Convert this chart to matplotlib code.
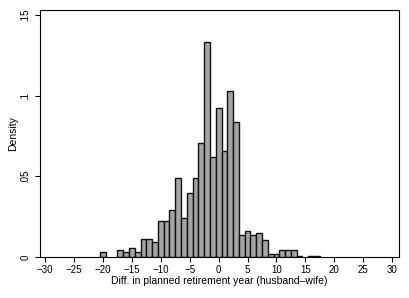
import numpy as np
import matplotlib
matplotlib.use('Agg')
import matplotlib.pyplot as plt

# difference in planned retirement year (husband - wife), one bar per year
years = [-20, -17, -16, -15, -14, -13, -12, -11, -10, -9, -8, -7, -6, -5, -4,
         -3, -2, -1, 0, 1, 2, 3, 4, 5, 6, 7, 8, 9, 10, 11, 12, 13, 14, 16, 17]
density = [0.0031, 0.0044, 0.0030, 0.0054, 0.0030, 0.0114, 0.0114, 0.0090,
           0.0223, 0.0223, 0.0292, 0.0492, 0.0244, 0.0400, 0.0492, 0.0708,
           0.1335, 0.0623, 0.0923, 0.0660, 0.1029, 0.0840, 0.0138, 0.0163,
           0.0138, 0.0150, 0.0106, 0.0019, 0.0019, 0.0044, 0.0044, 0.0044,
           0.0008, 0.0008, 0.0008]

xticks = list(range(-30, 31, 5))
xtick_labels = [str(t).replace('-', '\u2212') for t in xticks]
yticks = [0, 0.05, 0.1, 0.15]
ytick_labels = ['0', '.05', '.1', '.15']

plt.rcParams['font.family'] = ['Liberation Sans', 'DejaVu Sans']

fig = plt.figure(figsize=(4.10, 2.98), dpi=100)
ax = fig.add_axes([40 / 410, 41 / 298, 359 / 410, 247 / 298])

ax.bar(years, density, width=1.0, color='#a4a4a4', edgecolor='#111111',
       linewidth=1.0, align='center')

ax.set_xlim(-30.9, 31.2)
ax.set_ylim(0, 0.1533)
ax.set_xticks(xticks)
ax.set_xticklabels(xtick_labels)
ax.set_yticks(yticks)
ax.set_yticklabels(ytick_labels, rotation=90, va='center')

ax.tick_params(axis='both', direction='out', length=3.5, width=0.8,
               labelsize=7, pad=2, color='black')
ax.tick_params(axis='y', pad=3.5)
ax.tick_params(top=False, right=False)
for sp in ax.spines.values():
    sp.set_linewidth(0.8)
    sp.set_color('black')

ax.set_xlabel('Diff. in planned retirement year (husband\u2013wife)',
              fontsize=7.5, labelpad=1)
ax.set_ylabel('Density', fontsize=7.5, labelpad=1.5)

fig.savefig('out.png', dpi=100)
plt.close(fig)
